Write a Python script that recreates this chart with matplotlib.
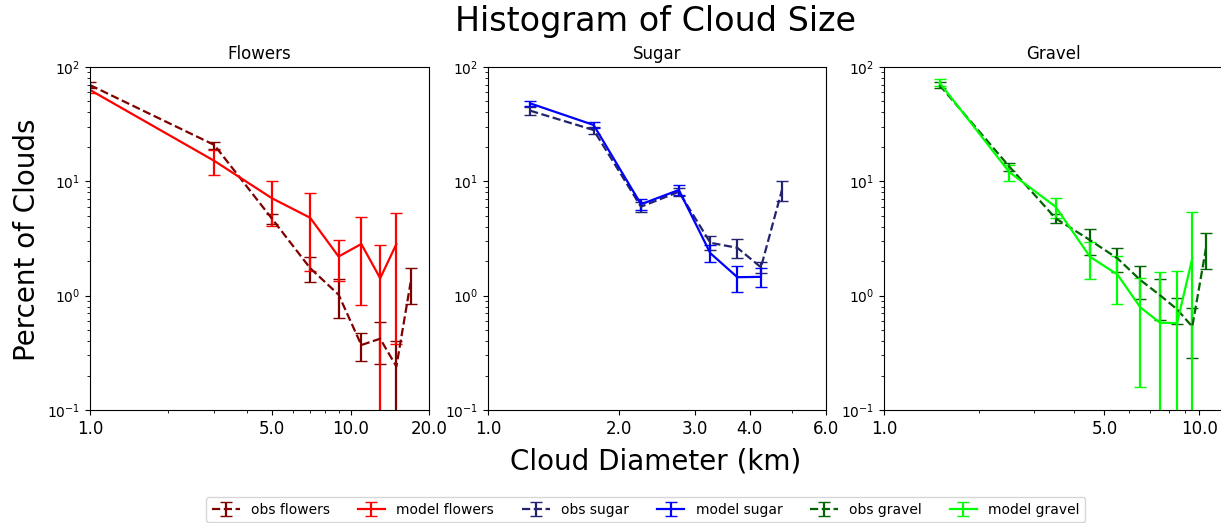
import numpy as np
import matplotlib.pyplot as plt
from matplotlib.ticker import NullFormatter

# bin centres (km) and percent of clouds per bin, with error bars
flowers_x = [1, 3, 5, 7, 9, 11, 13, 15, 17]
obs_flowers = [69.5, 20.8, 4.7, 1.74, 1.02, 0.37, 0.42, 0.24, 1.3]
obs_flowers_err = [4.0, 1.5, 0.5, 0.43, 0.38, 0.1, 0.17, 0.16, 0.45]
model_flowers_x = [1, 3, 5, 7, 9, 11, 13, 15]
model_flowers = [63.0, 15.1, 7.1, 4.8, 2.2, 2.83, 1.42, 2.83]
model_flowers_err = [4.0, 3.7, 3.0, 3.15, 0.87, 2.0, 1.35, 2.45]

sugar_x = [1.25, 1.75, 2.25, 2.75, 3.25, 3.75, 4.25, 4.75]
obs_sugar = [41.5, 28.1, 6.0, 8.1, 2.9, 2.62, 1.77, 8.4]
obs_sugar_err = [3.5, 2.0, 0.6, 0.6, 0.4, 0.5, 0.2, 1.7]
model_sugar_x = [1.25, 1.75, 2.25, 2.75, 3.25, 3.75, 4.25]
model_sugar = [48.1, 31.1, 6.3, 8.4, 2.35, 1.45, 1.46]
model_sugar_err = [2.5, 2.0, 0.7, 0.8, 0.4, 0.37, 0.28]

gravel_x = [1.5, 2.5, 3.5, 4.5, 5.5, 6.5, 7.5, 8.5, 9.5, 10.5]
obs_gravel = [69.5, 13.4, 4.75, 3.06, 2.12, 1.37, 1.01, 0.76, 0.535, 2.6]
obs_gravel_err = [4.0, 1.0, 0.4, 0.78, 0.5, 0.43, 0.4, 0.2, 0.25, 0.9]
model_gravel_x = [1.5, 2.5, 3.5, 4.5, 5.5, 6.5, 7.5, 8.5, 9.5]
model_gravel = [72.9, 12.0, 6.0, 2.19, 1.53, 0.79, 0.58, 0.575, 2.12]
model_gravel_err = [5.0, 2.0, 1.2, 0.78, 0.68, 0.63, 1.04, 1.07, 3.3]

panels = [
    ('Flowers', 'flowers', (1, 20), [1, 5, 10, 20], 'maroon', 'red',
     flowers_x, obs_flowers, obs_flowers_err,
     model_flowers_x, model_flowers, model_flowers_err),
    ('Sugar', 'sugar', (1, 6), [1, 2, 3, 4, 6], '#23236e', 'blue',
     sugar_x, obs_sugar, obs_sugar_err,
     model_sugar_x, model_sugar, model_sugar_err),
    ('Gravel', 'gravel', (1, 11.8), [1, 5, 10], 'darkgreen', 'lime',
     gravel_x, obs_gravel, obs_gravel_err,
     model_gravel_x, model_gravel, model_gravel_err),
]

fig = plt.figure(figsize=(12.21, 5.23), dpi=100)
lefts = [0.0737, 0.3997, 0.7240]
widths = [0.2776, 0.2768, 0.2768]

handles = []
for left, width, p in zip(lefts, widths, panels):
    (title, name, xlim, xticks, c_obs, c_mod,
     xo, yo, eo, xm, ym, em) = p
    ax = fig.add_axes([left, 0.2161, width, 0.6558])
    ax.set_xscale('log')
    ax.set_yscale('log')
    h1 = ax.errorbar(xo, yo, yerr=eo, fmt='--', color=c_obs, capsize=4,
                     lw=1.6, label='obs ' + name)
    h2 = ax.errorbar(xm, ym, yerr=em, fmt='-', color=c_mod, capsize=4,
                     lw=1.6, label='model ' + name)
    handles += [h1, h2]
    ax.set_xlim(*xlim)
    ax.set_ylim(0.1, 100)
    ax.set_xticks(xticks)
    ax.set_xticklabels(['%.1f' % t for t in xticks], fontsize=12)
    ax.xaxis.set_minor_formatter(NullFormatter())
    ax.set_title(title, fontsize=12)

fig.suptitle('Histogram of Cloud Size', fontsize=24, x=0.537, y=0.99)
fig.text(0.537, 0.118, 'Cloud Diameter (km)', fontsize=20,
         ha='center', va='center')
fig.text(0.022, 0.541, 'Percent of Clouds', fontsize=20, rotation=90,
         ha='center', va='center')
fig.legend(handles=handles, loc='center', ncol=6, fontsize=10,
           bbox_to_anchor=(0.529, 0.025))

plt.savefig('out.png', dpi=100)
